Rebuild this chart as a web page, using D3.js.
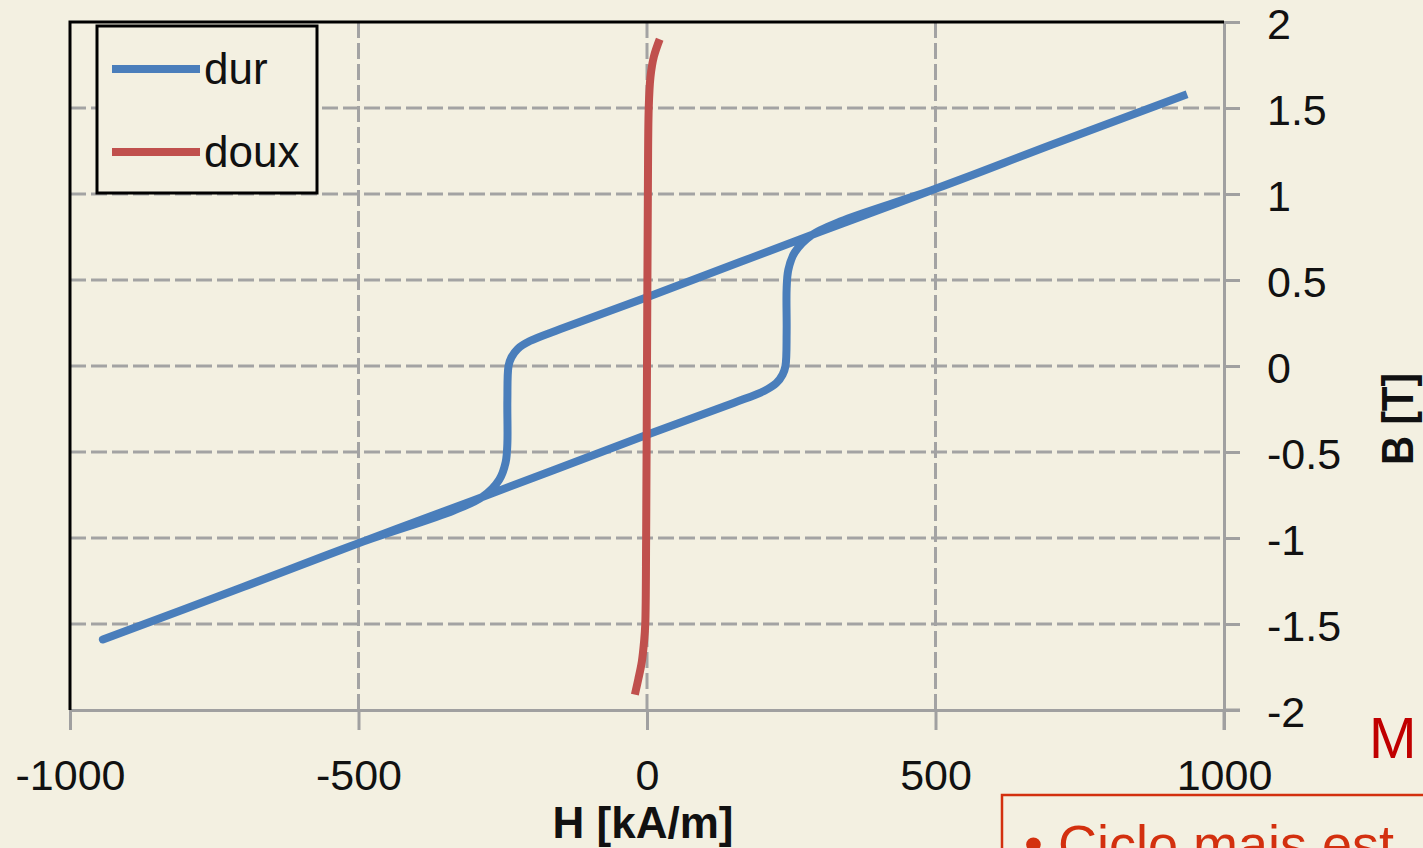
<!DOCTYPE html>
<html>
<head>
<meta charset="utf-8">
<script src="https://cdnjs.cloudflare.com/ajax/libs/d3/7.8.5/d3.min.js"></script>
<style>
  body { margin: 0; background: #f3f0e1; }
  svg { display: block; }
  text { font-family: "Liberation Sans", Arial, sans-serif; fill: #111; }
</style>
</head>
<body>
<script>
var width = 1423,
    height = 848;

// H [kA/m] ticks and B [T] ticks
var xTicks = [-1000, -500, 0, 500, 1000];
var yTicks = [-2, -1.5, -1, -0.5, 0, 0.5, 1, 1.5, 2];
var xGrid = [-500, 0, 500];
var yGrid = [-1.5, -1, -0.5, 0, 0.5, 1, 1.5];

// "dur" loop: H values then B values
var durH = [936, 700, 500, 300, 0, -150, -203, -224, -235, -240, -242, -242, -245, -256, -285, -335, -500, -700, -943,
            -700, -500, -300, 0, 150, 203, 224, 235, 240, 242, 242, 245, 256, 285, 335, 500, 700, 936];
var durB = [1.58, 1.285, 1.03, 0.78, 0.40, 0.215, 0.145, 0.10, 0.05, 0.0, -0.2, -0.45, -0.56, -0.66, -0.76, -0.84, -1.03, -1.285, -1.59,
            -1.285, -1.03, -0.78, -0.40, -0.215, -0.145, -0.10, -0.05, 0.0, 0.2, 0.45, 0.56, 0.66, 0.76, 0.84, 1.03, 1.285, 1.58];

// "doux" curve
var douxH = [-21, -15, -9, -5, -3, -1.5, 0, 1.5, 3, 6, 12, 22];
var douxB = [-1.91, -1.82, -1.72, -1.6, -1.5, -1.0, 0, 1.0, 1.5, 1.68, 1.8, 1.9];

var seriesNames = ["dur", "doux"];
var seriesColors = ["#4a7ebb", "#c0504d"];

var x = d3.scaleLinear().domain([-1000, 1000]).range([70, 1224]);
var y = d3.scaleLinear().domain([-2, 2]).range([710, 22]);

var svg = d3.select("body").append("svg")
    .attr("width", width)
    .attr("height", height);

// grid
svg.selectAll(".gx").data(xGrid).enter().append("line")
    .attr("x1", function(d) { return x(d); })
    .attr("x2", function(d) { return x(d); })
    .attr("y1", y(2)).attr("y2", y(-2))
    .attr("stroke", "#a3a3a3").attr("stroke-width", 3)
    .attr("stroke-dasharray", "16,5");

svg.selectAll(".gy").data(yGrid).enter().append("line")
    .attr("x1", x(-1000)).attr("x2", x(1000))
    .attr("y1", function(d) { return y(d); })
    .attr("y2", function(d) { return y(d); })
    .attr("stroke", "#a3a3a3").attr("stroke-width", 3)
    .attr("stroke-dasharray", "16,5");

// bottom axis
var xAxis = svg.append("g")
    .attr("transform", "translate(0," + y(-2) + ")")
    .call(d3.axisBottom(x).tickValues(xTicks).tickSize(20).tickSizeOuter(0)
      .tickFormat(function(d) { return String(d); }));
xAxis.select(".domain").attr("stroke", "#a0a0a0").attr("stroke-width", 3);
xAxis.selectAll(".tick line").attr("stroke", "#a0a0a0").attr("stroke-width", 3);
xAxis.selectAll(".tick text").attr("y", 80).attr("dy", 0)
    .style("font-size", "43px").style("font-family", "Liberation Sans").attr("fill", "#111");
xAxis.append("line").attr("x1", x(1000)).attr("x2", x(1000) + 16).attr("y1", 0).attr("y2", 0)
    .attr("stroke", "#a0a0a0").attr("stroke-width", 3);

// right axis
var yAxis = svg.append("g")
    .attr("transform", "translate(" + x(1000) + ",0)")
    .call(d3.axisRight(y).tickValues(yTicks).tickSize(16).tickSizeOuter(0)
      .tickFormat(function(d) { return String(d); }));
yAxis.select(".domain").attr("stroke", "#a0a0a0").attr("stroke-width", 3);
yAxis.selectAll(".tick line").attr("stroke", "#a0a0a0").attr("stroke-width", 3);
yAxis.selectAll(".tick text").attr("x", 43).attr("dy", "16px")
    .attr("text-anchor", "start")
    .style("font-size", "43px").style("font-family", "Liberation Sans").attr("fill", "#111");
yAxis.append("line").attr("x1", 0).attr("x2", 0).attr("y1", y(-2)).attr("y2", y(-2) + 20)
    .attr("stroke", "#a0a0a0").attr("stroke-width", 3);

// left and top border
svg.append("path")
    .attr("d", "M" + x(-1000) + "," + y(-2) + "V" + y(2) + "H" + x(1000))
    .attr("fill", "none").attr("stroke", "#000").attr("stroke-width", 3);

// series
var line = d3.line()
    .x(function(d) { return x(d[0]); })
    .y(function(d) { return y(d[1]); })
    .curve(d3.curveCatmullRom.alpha(0.5));

var durPts = durH.map(function(h, i) { return [h, durB[i]]; });
var douxPts = douxH.map(function(h, i) { return [h, douxB[i]]; });

svg.append("path").datum(durPts)
    .attr("d", line).attr("fill", "none")
    .attr("stroke", seriesColors[0]).attr("stroke-width", 8)
    .attr("stroke-linejoin", "round");

svg.append("path").datum(douxPts)
    .attr("d", line).attr("fill", "none")
    .attr("stroke", seriesColors[1]).attr("stroke-width", 8)
    .attr("stroke-linejoin", "round");

// legend
var legend = svg.append("g");
legend.append("rect")
    .attr("x", 97).attr("y", 26).attr("width", 220).attr("height", 167)
    .attr("fill", "#f3f0e1").attr("stroke", "#000").attr("stroke-width", 3);
seriesNames.forEach(function(name, i) {
  var ly = 69 + i * 83;
  legend.append("line")
      .attr("x1", 112).attr("x2", 200).attr("y1", ly).attr("y2", ly)
      .attr("stroke", seriesColors[i]).attr("stroke-width", 8);
  legend.append("text")
      .attr("x", 204).attr("y", ly + 15)
      .style("font-size", "44px")
      .text(name);
});

// axis titles
svg.append("text")
    .attr("x", 643).attr("y", 838)
    .attr("text-anchor", "middle")
    .style("font-size", "44px").style("font-weight", "bold")
    .text("H [kA/m]");

svg.append("text")
    .attr("transform", "translate(1413,419) rotate(-90)")
    .attr("text-anchor", "middle")
    .attr("textLength", 92).attr("lengthAdjust", "spacingAndGlyphs")
    .style("font-size", "44px").style("font-weight", "bold")
    .text("B [T]");

// slide remnants
svg.append("text")
    .attr("x", 1369).attr("y", 758)
    .style("font-size", "57px").style("fill", "#c00000")
    .text("M");

svg.append("rect")
    .attr("x", 1002).attr("y", 795).attr("width", 440).attr("height", 100)
    .attr("fill", "none").attr("stroke", "#d3300f").attr("stroke-width", 2.5);

svg.append("text")
    .attr("x", 1024).attr("y", 863)
    .style("font-size", "54px").style("fill", "#d3300f")
    .text("\u2022 Ciclo mais est");
</script>
</body>
</html>
